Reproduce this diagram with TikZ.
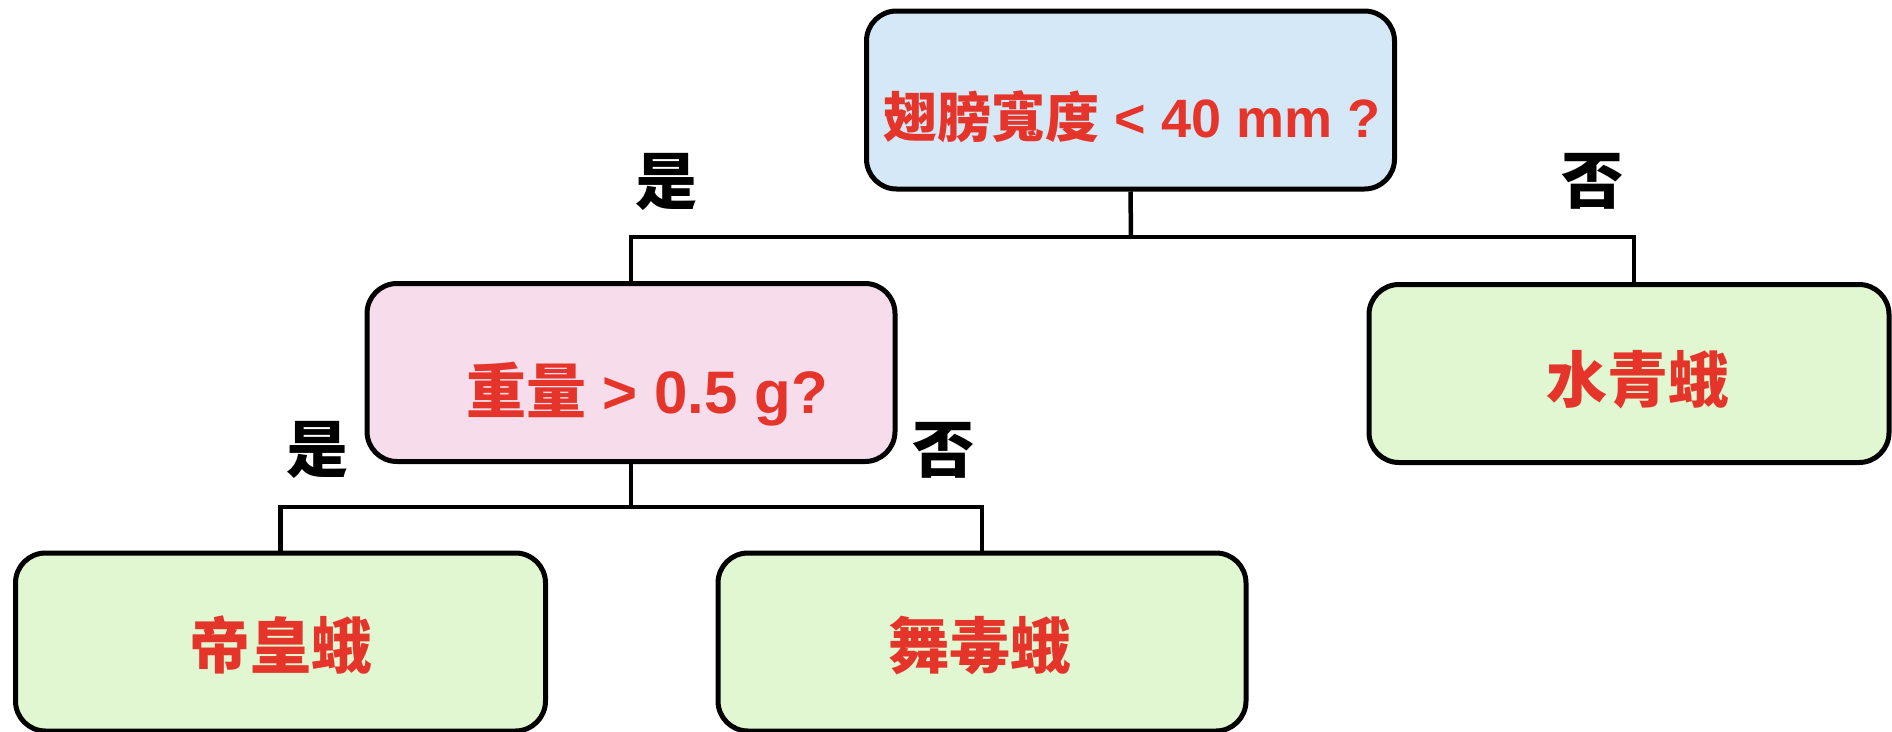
\documentclass[tikz,border=0pt]{standalone}
\usepackage{fontspec}
\setmainfont{Liberation Sans}
\newfontfamily\cjk{Noto Sans CJK TC}
\definecolor{qblue}{HTML}{D5E8F8}
\definecolor{qpink}{HTML}{F7DDEC}
\definecolor{qgreen}{HTML}{E1F7D2}
\definecolor{qred}{HTML}{E5352B}
\tikzset{
  box/.style={draw=black, line width=5pt, rounded corners=30pt, rectangle,
    minimum width=528pt, minimum height=178pt, inner sep=0pt},
  txt/.style={anchor=base, text=qred, inner sep=0pt, font=\bfseries},
  lbl/.style={anchor=base, text=black, inner sep=0pt, font=\cjk\bfseries\fontsize{62}{62}\selectfont},
  conn/.style={line width=4.5pt, draw=black}
}
\begin{document}
\begin{tikzpicture}[x=1pt,y=-1pt]
\useasboundingbox (0,0) rectangle (1892,731);
% boxes
\node[box, fill=qblue] (top) at (1130.5,100) {};
\node[box, fill=qpink] (pink) at (631,372.5) {};
\node[box, fill=qgreen, minimum width=520pt] (right) at (1629,373.5) {};
\node[box, fill=qgreen, minimum width=530pt] (bl) at (280.5,642) {};
\node[box, fill=qgreen] (bm) at (982,642) {};
% texts
\node[txt, font=\bfseries\fontsize{54}{54}\selectfont] (ttop) at (1132,137) {{\cjk 翅膀寬度} < 40 mm ?};
\node[txt, font=\bfseries\fontsize{60}{60}\selectfont] (tpink) at (647,413) {{\cjk 重量} > 0.5 g?};
\node[txt, font=\cjk\bfseries\fontsize{61}{61}\selectfont] (tright) at (1638,402) {水青蛾};
\node[txt, font=\cjk\bfseries\fontsize{61}{61}\selectfont] (tbl) at (281,668) {帝皇蛾};
\node[txt, font=\cjk\bfseries\fontsize{61}{61}\selectfont] (tbm) at (980,668) {舞毒蛾};
% labels
\node[lbl] (yes1) at (666,204) {是};
\node[lbl] (no1) at (1592,203) {否};
\node[lbl] (yes2) at (317,472) {是};
\node[lbl] (no2) at (943,472) {否};
% connectors
\coordinate (j1) at (1131,237);
\coordinate (j2) at (631,507);
\coordinate (rdrop) at (1634,284);
\draw[conn] (top.south) -- (j1);
\draw[conn] (pink.north) |- (j1) -| (rdrop);
\draw[conn] (pink.south) -- (j2);
\draw[conn] (bl.north) |- (j2) -| (bm.north);
\end{tikzpicture}
\end{document}
